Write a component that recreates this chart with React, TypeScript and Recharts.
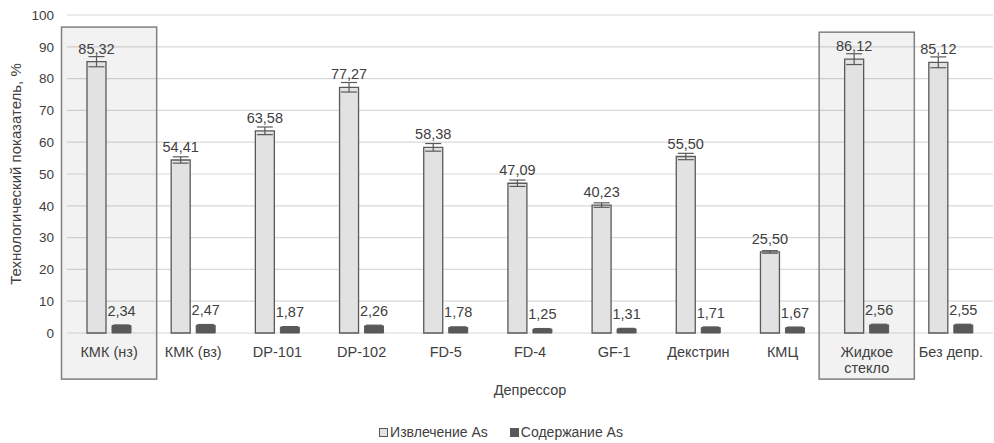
import React from 'react';
import {
  BarChart,
  Bar,
  XAxis,
  YAxis,
  CartesianGrid,
  ErrorBar,
  LabelList,
  ReferenceArea,
  Legend,
} from 'recharts';

const categories = [
  'КМК (нз)',
  'КМК (вз)',
  'DP-101',
  'DP-102',
  'FD-5',
  'FD-4',
  'GF-1',
  'Декстрин',
  'КМЦ',
  'Жидкое стекло',
  'Без депр.',
];
const extraction = [85.32, 54.41, 63.58, 77.27, 58.38, 47.09, 40.23, 55.5, 25.5, 86.12, 85.12];
const extractionErr = [1.6, 1.0, 1.2, 1.5, 1.2, 1.0, 0.7, 1.0, 0.4, 1.7, 1.7];
const content = [2.34, 2.47, 1.87, 2.26, 1.78, 1.25, 1.31, 1.71, 1.67, 2.56, 2.55];
const contentErr = [0.2, 0.2, 0.15, 0.2, 0.15, 0.15, 0.15, 0.2, 0.2, 0.2, 0.2];
const yTicks = [0, 10, 20, 30, 40, 50, 60, 70, 80, 90, 100];

const highlighted = ['КМК (нз)', 'Жидкое стекло'];
const highlightTop = [96.2, 94.6];
const highlightBottom = -14.5;

const seriesNames = ['Извлечение As', 'Содержание As'];

const data = categories.map((name, i) => ({
  name,
  extraction: extraction[i],
  extractionErr: extractionErr[i],
  content: content[i],
  contentErr: contentErr[i],
}));

const FONT = 'Arial, "Liberation Sans", sans-serif';
const TEXT = '#404040';
const LIGHT = '#e2e2e2';
const DARK = '#595959';

const fmt = (v: any) => Number(v).toFixed(2).replace('.', ',');

const CatTick = (props: any) => {
  const { x, y, payload } = props;
  const label: string = String(payload.value);
  const lines = label.length > 10 ? label.split(' ') : [label];
  return (
    <text x={x} y={y + 22} textAnchor="middle" fill={TEXT} fontSize={14.5} fontFamily={FONT}>
      {lines.map((l, i) => (
        <tspan key={i} x={x} dy={i === 0 ? 0 : 16}>
          {l}
        </tspan>
      ))}
    </text>
  );
};

const BoxShape = (props: any) => {
  const { x, y, width, height } = props;
  const pad = 5.5;
  return (
    <rect
      x={x - pad}
      y={y}
      width={width + pad * 2}
      height={height}
      fill="#000"
      fillOpacity={0.05}
      stroke="#7f7f7f"
      strokeWidth={1.5}
    />
  );
};

const LegendContent = () => (
  <div
    style={{
      display: 'flex',
      justifyContent: 'center',
      alignItems: 'center',
      fontFamily: FONT,
      fontSize: 14,
      color: TEXT,
      paddingLeft: 8,
    }}
  >
    <span style={{ display: 'flex', alignItems: 'center', marginRight: 22 }}>
      <span
        style={{
          display: 'inline-block',
          width: 7,
          height: 7,
          background: LIGHT,
          border: `1.5px solid ${DARK}`,
          marginRight: 2,
        }}
      />
      {seriesNames[0]}
    </span>
    <span style={{ display: 'flex', alignItems: 'center' }}>
      <span
        style={{
          display: 'inline-block',
          width: 9,
          height: 9,
          background: DARK,
          marginRight: 2,
        }}
      />
      {seriesNames[1]}
    </span>
  </div>
);

export default function App() {
  return (
    <div style={{ position: 'absolute', left: 0, top: 0, width: 994, height: 443, background: '#fff' }}>
      <BarChart
        width={994}
        height={443}
        data={data}
        margin={{ top: 15, right: 1, bottom: 30, left: 0 }}
        barSize={19}
        barGap={6}
      >
        <CartesianGrid vertical={false} stroke="#d9d9d9" strokeWidth={1.2} />
        {highlighted.map((cat, i) => (
          <ReferenceArea
            key={cat}
            x1={cat}
            x2={cat}
            y1={highlightBottom}
            y2={highlightTop[i]}
            ifOverflow="visible"
            shape={BoxShape}
          />
        ))}
        <XAxis
          dataKey="name"
          height={80}
          axisLine={false}
          tickLine={false}
          tickSize={0}
          interval={0}
          tick={CatTick}
          label={{
            content: (p: any) => {
              const vb = p.viewBox;
              return (
                <text
                  x={vb.x + vb.width / 2}
                  y={vb.y + 62}
                  textAnchor="middle"
                  fill={TEXT}
                  fontSize={14.5}
                  fontFamily={FONT}
                >
                  Депрессор
                </text>
              );
            },
          }}
        />
        <YAxis
          width={67}
          domain={[0, 100]}
          ticks={yTicks}
          axisLine={false}
          tickLine={false}
          tickSize={0}
          tickMargin={13}
          tick={{ fill: TEXT, fontSize: 13.5, fontFamily: FONT }}
          label={{
            content: (p: any) => {
              const vb = p.viewBox;
              const cx = 15;
              const cy = vb.y + vb.height / 2;
              return (
                <text
                  x={cx}
                  y={cy}
                  transform={`rotate(-90 ${cx} ${cy})`}
                  textAnchor="middle"
                  dominantBaseline="central"
                  fill={TEXT}
                  fontSize={15}
                  fontFamily={FONT}
                >
                  Технологический показатель, %
                </text>
              );
            },
          }}
        />
        <Legend
          layout="vertical"
          align="center"
          verticalAlign="middle"
          content={LegendContent}
          wrapperStyle={{ position: 'absolute', left: 0, top: 424, width: 994, height: 18 }}
        />
        <Bar
          dataKey="extraction"
          name={seriesNames[0]}
          fill={LIGHT}
          stroke={DARK}
          strokeWidth={1.3}
          isAnimationActive={false}
        >
          <ErrorBar dataKey="extractionErr" width={8} stroke={DARK} strokeWidth={1.2} />
          <LabelList
            dataKey="extraction"
            position="top"
            offset={8}
            formatter={fmt}
            fill={TEXT}
            fontSize={14.5}
            fontFamily={FONT}
          />
        </Bar>
        <Bar
          dataKey="content"
          name={seriesNames[1]}
          fill={DARK}
          stroke={DARK}
          strokeWidth={1}
          isAnimationActive={false}
        >
          <ErrorBar dataKey="contentErr" width={8} stroke={DARK} strokeWidth={1.2} />
          <LabelList
            dataKey="content"
            position="top"
            offset={10}
            formatter={fmt}
            fill={TEXT}
            fontSize={14.5}
            fontFamily={FONT}
          />
        </Bar>
      </BarChart>
    </div>
  );
}
